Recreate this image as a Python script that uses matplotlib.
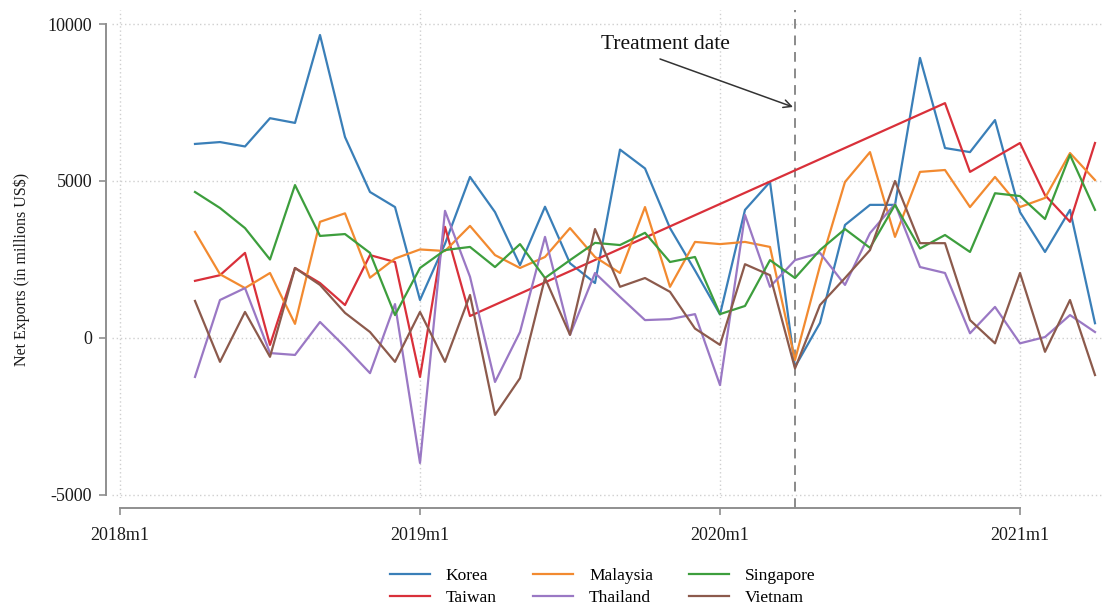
import numpy as np
import matplotlib
matplotlib.use("Agg")
import matplotlib.pyplot as plt

plt.rcParams['font.family'] = ['Liberation Serif', 'DejaVu Serif']

# Monthly observations, 2018m4 .. 2021m4 (month index 0 = 2018m1)
start_month = 3
n_months = 37

korea = [6180, 6240, 6100, 7000, 6850, 9650, 6400, 4650, 4170, 1210,
         3000, 5130, 4010, 2320, 4180, 2380, 1750, 6000, 5400, 3500,
         2150, 750, 4080, 4970, -920, 480, 3600, 4240, 4240, 8920,
         6050, 5920, 6940, 4010, 2740, 4080, 470]
taiwan = [1820, 2000, 2710, -220, 2230, 1750, 1050, 2640, 2420, -1240,
          3540, 700, None, None, None, None, None, None, None, None,
          None, None, None, None, None, None, None, None, None, None,
          7480, 5290, 5750, 6210, 4550, 3700, 6210]
malaysia = [3380, 2030, 1590, 2070, 450, 3700, 3970, 1920, 2530, 2820,
            2770, 3570, 2640, 2230, 2580, 3500, 2580, 2070, 4170, 1630,
            3060, 2990, 3060, 2900, -700, 2300, 4970, 5920, 3220, 5290,
            5350, 4170, 5130, 4170, 4460, 5890, 5030]
singapore = [4650, 4140, 3500, 2500, 4870, 3250, 3310, 2710, 730, 2230,
             2800, 2900, 2260, 2990, 1910, 2480, 3030, 2960, 3350, 2420,
             2580, 760, 1020, 2480, 1910, 2800, 3470, 2870, 4240, 2850,
             3280, 2740, 4610, 4520, 3790, 5830, 4080]
thailand = [-1240, 1210, 1590, -480, -540, 510, -280, -1120, 1080, -3980,
            4050, 1950, -1400, 190, 3220, 100, 2070, 1310, 570, 600,
            760, -1500, 3920, 1630, 2480, 2710, 1690, 3340, 4270, 2260,
            2070, 150, 990, -170, 30, 730, 190]
vietnam = [1180, -760, 830, -600, 2230, 1690, 800, 190, -760, 830,
           -760, 1370, -2450, -1280, 1910, 100, 3470, 1630, 1910, 1470,
           300, -220, 2350, 2000, -970, 1050, 1910, 2800, 5000, 3020,
           3020, 570, -170, 2070, -440, 1210, -1180]

series = [
    ("Korea", korea, "#3a7fb8"),
    ("Taiwan", taiwan, "#d9303a"),
    ("Malaysia", malaysia, "#f28a30"),
    ("Thailand", thailand, "#9a78c4"),
    ("Singapore", singapore, "#3d9e3d"),
    ("Vietnam", vietnam, "#8c5a4c"),
]

tick_months = [0, 12, 24, 36]
tick_labels = ["2018m1", "2019m1", "2020m1", "2021m1"]
y_ticks = [-5000, 0, 5000, 10000]
treatment_month = 27  # 2020m4

months = np.arange(start_month, start_month + n_months)

fig = plt.figure(figsize=(11.04, 6.05), dpi=100)
ax = fig.add_axes([112 / 1104, 1 - 498 / 605, 990 / 1104, 488 / 605])

ax.set_xlim(-0.32, 39.28)
ax.set_ylim(-5096, 10446)

grid_kw = dict(color="#cfcfcf", linestyle=(0, (1, 2)), linewidth=1.0, zorder=0)
for yv in y_ticks:
    ax.axhline(yv, **grid_kw)
for xv in tick_months:
    ax.axvline(xv, **grid_kw)

handles = []
for name, vals, col in series:
    v = np.array([np.nan if x is None else x for x in vals], dtype=float)
    ok = ~np.isnan(v)
    h, = ax.plot(months[ok], v[ok], color=col, lw=1.6, label=name, zorder=3)
    handles.append(h)

ax.axvline(treatment_month, color="#8a8a8a", lw=1.4, linestyle=(0, (5, 3.5)),
           zorder=2, ymin=-0.02, ymax=1.0, clip_on=False)

# Annotation: label plus arrow pointing at the treatment line
ax.text(21.8, 9332, "Treatment date", fontsize=15.5, ha="center", va="center",
        color="#111111")
ax.annotate("", xy=(26.92, 7357), xytext=(21.6, 8886),
            arrowprops=dict(arrowstyle="->", color="#333333", lw=1.1,
                            shrinkA=0, shrinkB=0, mutation_scale=14))

# Axis styling
for s in ("top", "right"):
    ax.spines[s].set_visible(False)
ax.spines["left"].set_position(("outward", 4.3))
ax.spines["bottom"].set_position(("outward", 7.2))
ax.spines["left"].set_bounds(-5000, 10000)
ax.spines["bottom"].set_bounds(0, 36)
for s in ("left", "bottom"):
    ax.spines[s].set_color("#8f8f8f")
    ax.spines[s].set_linewidth(1.4)

ax.set_xticks(tick_months)
ax.set_xticklabels(tick_labels)
ax.set_yticks(y_ticks)
ax.set_yticklabels([str(t) for t in y_ticks])
ax.tick_params(axis="both", colors="#8f8f8f", length=5, width=1.2,
               labelcolor="#1a1a1a", labelsize=13)
ax.tick_params(axis="y", pad=5)
ax.tick_params(axis="x", pad=9)

fig.text(22 / 1104, 1 - 269 / 605, "Net Exports (in millions US$)",
         rotation=90, ha="center", va="center", fontsize=11.5, color="#1a1a1a")

fig.legend(handles=handles, labels=[h.get_label() for h in handles],
           ncol=3, loc="center", bbox_to_anchor=(603 / 1104, 1 - 587 / 605),
           frameon=False, fontsize=12.5, handlelength=2.3, handletextpad=0.9,
           columnspacing=2.1, labelspacing=0.3)

fig.savefig("out.png", dpi=100)
